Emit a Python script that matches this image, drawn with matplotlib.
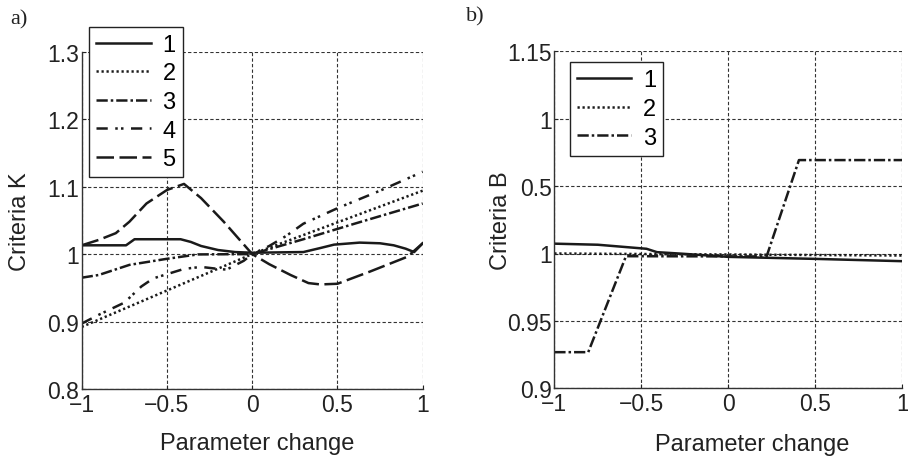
import matplotlib
matplotlib.use("Agg")
import matplotlib.pyplot as plt
from matplotlib.ticker import FixedLocator, FixedFormatter

# ---------------- data: panel a) ----------------
xa1 = [-1, -0.74, -0.69, -0.42, -0.36, -0.3, -0.2, -0.1, 0, 0.3, 0.4, 0.48, 0.63, 0.75, 0.83, 0.9, 0.95, 1.0]
ya1 = [1.013, 1.013, 1.022, 1.022, 1.018, 1.012, 1.006, 1.003, 1.002, 1.003, 1.009, 1.014, 1.017, 1.016, 1.013, 1.008, 1.003, 1.016]
xa2 = [-1, 0, 1]
ya2 = [0.892, 1.0, 1.094]
xa3 = [-1, -0.9, -0.72, -0.5, -0.32, 0, 0.3, 0.6, 1.0]
ya3 = [0.965, 0.969, 0.984, 0.993, 0.9995, 1.0, 1.022, 1.045, 1.075]
xa4 = [-1, -0.9, -0.75, -0.65, -0.58, -0.4, -0.3, -0.2, -0.15, -0.05, 0, 0.1, 0.2, 0.3, 0.5, 0.75, 1.0]
ya4 = [0.897, 0.91, 0.928, 0.952, 0.964, 0.978, 0.981, 0.978, 0.977, 0.99, 1.0, 1.012, 1.027, 1.045, 1.068, 1.094, 1.122]
xa5 = [-1, -0.9, -0.8, -0.72, -0.62, -0.5, -0.4, -0.3, -0.167, 0, 0.1, 0.225, 0.33, 0.4, 0.5, 0.69, 0.91, 1.0]
ya5 = [1.013, 1.021, 1.031, 1.048, 1.075, 1.095, 1.104, 1.083, 1.048, 1.0, 0.985, 0.969, 0.957, 0.955, 0.956, 0.974, 0.996, 1.016]
labels_a = ["1", "2", "3", "4", "5"]

# ---------------- data: panel b) ----------------
xb1 = [-1, -0.75, -0.47, -0.41, -0.26, 0, 0.5, 1]
yb1 = [1.0073, 1.0065, 1.0035, 1.001, 0.9998, 0.9975, 0.996, 0.9943]
xb2 = [-1, 1]
yb2 = [1.0, 0.9985]
xb3 = [-1, -0.805, -0.588, 0.22, 0.406, 1]
yb3 = [0.9268, 0.9268, 0.998, 0.9978, 1.0693, 1.0693]
labels_b = ["1", "2", "3"]

xticks = [-1, -0.5, 0, 0.5, 1]
xticklabels = ["\u22121", "\u22120.5", "0", "0.5", "1"]
yticks_a = [0.8, 0.9, 1.0, 1.1, 1.2, 1.3]
yticklabels_a = ["0.8", "0.9", "1", "1.1", "1.2", "1.3"]
yticks_b = [0.9, 0.95, 1.0, 1.05, 1.1, 1.15]
yticklabels_b = ["0.9", "0.95", "1", "0.5", "1", "1.15"]

plt.rcParams['font.family'] = ['Liberation Sans', 'DejaVu Sans']

W, H = 908, 460
fig = plt.figure(figsize=(W / 100, H / 100), dpi=100)

def frac_rect(l, t, r, b):
    return [l / W, 1 - b / H, (r - l) / W, (b - t) / H]

axa = fig.add_axes(frac_rect(81.7, 52.7, 422.7, 390))
axb = fig.add_axes(frac_rect(554.3, 52.3, 902.3, 389.3))

LW = 1.8
styles = [
    dict(linestyle='-'),
    dict(linestyle=(0, (0.9, 1.1))),
    dict(linestyle=(0, (4.5, 1.2, 1.0, 1.2))),
    dict(linestyle=(0, (4.5, 3.0, 1.0, 1.3, 1.0, 3.0))),
    dict(linestyle=(0, (7, 2.2))),
]

series_a = [(xa1, ya1), (xa2, ya2), (xa3, ya3), (xa4, ya4), (xa5, ya5)]
hands_a = []
for (x, y), st, lab in zip(series_a, styles, labels_a):
    h, = axa.plot(x, y, color='#1a1a1a', lw=LW, label=lab, **st)
    hands_a.append(h)

series_b = [(xb1, yb1), (xb2, yb2), (xb3, yb3)]
hands_b = []
for (x, y), st, lab in zip(series_b, styles[:3], labels_b):
    h, = axb.plot(x, y, color='#1a1a1a', lw=LW, label=lab, **st)
    hands_b.append(h)

TICK_FS = 16.5
LABEL_FS = 17

def style_axes(ax, yticks, yticklabels, ylim):
    ax.set_xlim(-1, 1)
    ax.set_ylim(*ylim)
    ax.xaxis.set_major_locator(FixedLocator(xticks))
    ax.xaxis.set_major_formatter(FixedFormatter(xticklabels))
    ax.yaxis.set_major_locator(FixedLocator(yticks))
    ax.yaxis.set_major_formatter(FixedFormatter(yticklabels))
    ax.grid(True, color='#333333', lw=0.8, linestyle=(0, (3, 2)))
    ax.set_axisbelow(True)
    for s in ['top', 'right']:
        ax.spines[s].set_visible(False)
    for s in ['left', 'bottom']:
        ax.spines[s].set_linewidth(1.0)
        ax.spines[s].set_color('#333333')
    ax.tick_params(direction='in', length=3, width=0.8, labelsize=TICK_FS,
                   colors='#222222', pad=3)
    ax.tick_params(axis='y', pad=2)

style_axes(axa, yticks_a, yticklabels_a, (0.8, 1.3))
style_axes(axb, yticks_b, yticklabels_b, (0.9, 1.15))

axa.set_ylabel("Criteria K", fontsize=LABEL_FS, color='#222222')
axa.yaxis.set_label_coords(-0.149, 0.5)
axa.set_xlabel("Parameter change", fontsize=LABEL_FS, color='#222222')
axa.xaxis.set_label_coords(0.514, -0.128)

axb.set_ylabel("Criteria B", fontsize=LABEL_FS, color='#222222')
axb.yaxis.set_label_coords(-0.1216, 0.5)
axb.set_xlabel("Parameter change", fontsize=LABEL_FS, color='#222222')
axb.xaxis.set_label_coords(0.568, -0.133)

leg_kw = dict(fontsize=17, frameon=True, fancybox=False, edgecolor='#222222',
              framealpha=1, handlelength=2.3, handletextpad=0.5,
              labelspacing=0.28, borderpad=0.3, borderaxespad=0.0,
              loc='upper left')
la = fig.legend(hands_a, labels_a, bbox_to_anchor=(89.3 / W, 1 - 27.7 / H), **leg_kw)
la.get_frame().set_linewidth(1.0)
lb = fig.legend(hands_b, labels_b, bbox_to_anchor=(570 / W, 1 - 63.3 / H), **leg_kw)
lb.get_frame().set_linewidth(1.0)

fig.text(10 / W, 1 - 20 / H, "a)", family=['Liberation Serif', 'DejaVu Serif'],
         fontsize=16, ha='left', va='center', color='#222222')
fig.text(466 / W, 1 - 17 / H, "b)", family=['Liberation Serif', 'DejaVu Serif'],
         fontsize=16, ha='left', va='center', color='#222222')

fig.savefig("out.png", dpi=100)
